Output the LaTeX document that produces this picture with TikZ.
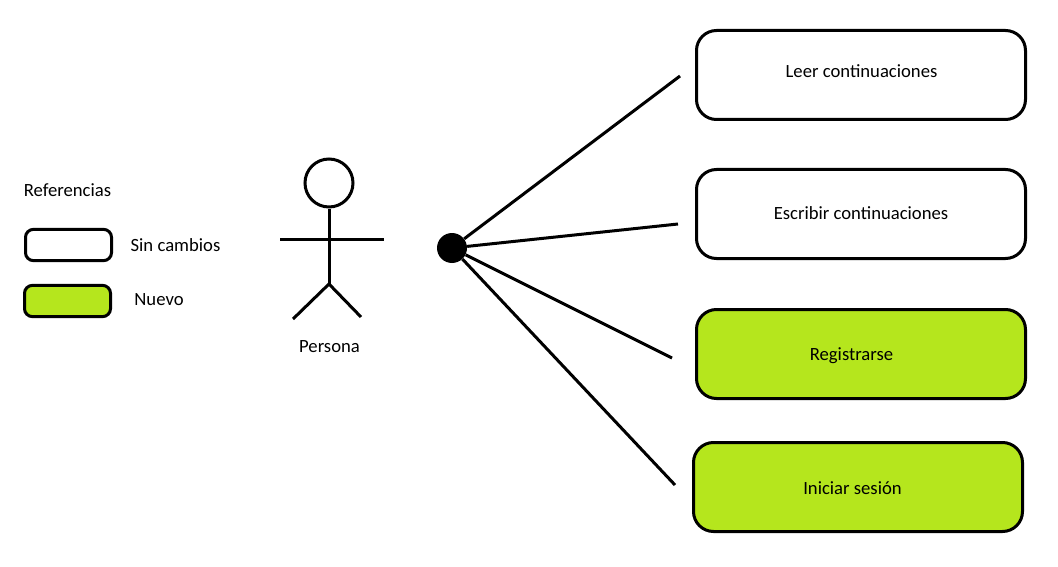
\documentclass[tikz,border=0pt]{standalone}
\usepackage{fontspec}
\setmainfont{Carlito}
\usepackage{xcolor}
\definecolor{nuevoverde}{HTML}{B5E61D}
\tikzset{
	caso/.style={draw, line width=2.25pt, rounded corners=15pt, minimum width=246.75pt, minimum height=66.75pt, inner sep=0pt},
	muestra/.style={draw, line width=2.25pt, rounded corners=6pt, minimum width=64.5pt, minimum height=23.5pt, inner sep=0pt},
	linea/.style={line width=2.25pt},
	texto/.style={font=\fontsize{14pt}{16pt}\selectfont, inner sep=0pt}
}
\begin{document}
\begin{tikzpicture}[x=0.75pt,y=-0.75pt]
	\useasboundingbox (0,0) rectangle (1058,567);
	% casos de uso
	\node[caso] (leer) at (861,75) {};
	\node[caso] (escribir) at (861,214) {};
	\node[caso, fill=nuevoverde] (registrarse) at (861,354) {};
	\node[caso, fill=nuevoverde] (iniciar) at (858,487) {};
	\node[texto] (tleer) at (861.5,71) {Leer continuaciones};
	\node[texto] (tescribir) at (861,213) {Escribir continuaciones};
	\node[texto] (tregistrarse) at (851.5,356) {Registrarse};
	\node[texto] (tiniciar) at (852.5,488) {Iniciar sesión};
	% lineas desde el punto
	\node[circle, fill=black, minimum size=22.5pt, inner sep=0pt] (punto) at (452,248) {};
	\coordinate (fleer) at (680,76);
	\coordinate (fescribir) at (678,224);
	\coordinate (fregistrarse) at (672,358);
	\coordinate (finiciar) at (675,485);
	\draw[linea] (punto) -- (fleer);
	\draw[linea] (punto) -- (fescribir);
	\draw[linea] (punto) -- (fregistrarse);
	\draw[linea] (punto) -- (finiciar);
	% persona
	\node[circle, draw, line width=2.25pt, minimum size=36pt, inner sep=0pt] (cabeza) at (329,183) {};
	\coordinate (cadera) at (329,284);
	\coordinate (brazoi) at (280,239);
	\coordinate (brazod) at (384,239);
	\coordinate (piernai) at (293,319);
	\coordinate (piernad) at (361,317);
	\draw[linea] (cabeza) -- (cadera);
	\draw[linea] (brazoi) -- (brazod);
	\draw[linea] (piernai) -- (cadera) -- (piernad);
	\node[texto] (tpersona) at (329.5,347) {Persona};
	% referencias
	\node[texto] (tref) at (67.5,190) {Referencias};
	\node[muestra] (sincambios) at (68.5,245) {};
	\node[muestra, fill=nuevoverde] (nuevo) at (67.5,301) {};
	\node[texto] (tsin) at (175.5,245) {Sin cambios};
	\node[texto] (tnuevo) at (159,300) {Nuevo};
\end{tikzpicture}
\end{document}
